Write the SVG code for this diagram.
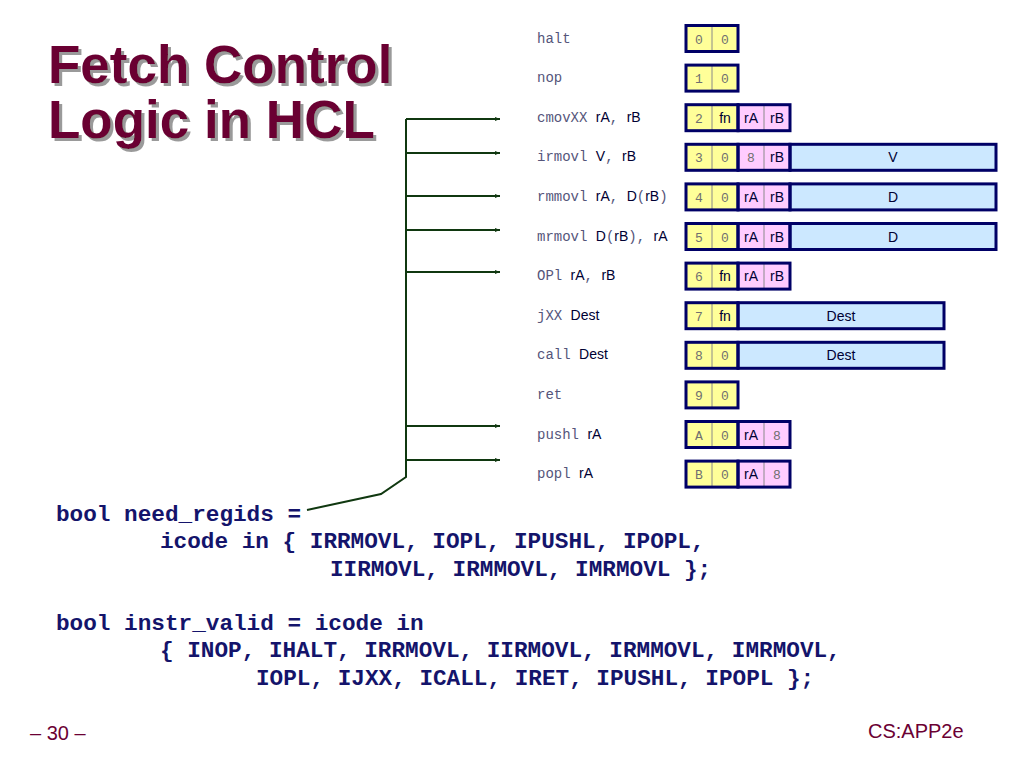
<svg xmlns="http://www.w3.org/2000/svg" width="1024" height="767" viewBox="0 0 1024 767">
<defs>
<style>
.title{font-family:"Liberation Sans",Arial,sans-serif;font-weight:bold;font-size:53px;fill:#6b0033}
.lbl{font-family:"Liberation Sans",Arial,sans-serif;font-size:14px;fill:#000033}
.mono{font-family:"Liberation Mono","Courier New",monospace;font-size:14px;fill:#55557a}
.cm{font-family:"Liberation Mono","Courier New",monospace;font-size:13px;fill:#707070;text-anchor:middle}
.cs{font-family:"Liberation Sans",Arial,sans-serif;font-size:14px;fill:#000033;text-anchor:middle}
.y{fill:#ffff99}
.p{fill:#ffccff}
.b{fill:#cce8ff}
.thin{stroke:#8a8a8a;stroke-width:1}
.bx{fill:none;stroke:#000066;stroke-width:3}
.code{font-family:"Liberation Mono","Courier New",monospace;font-weight:bold;font-size:22.7px;fill:#14146b}
.foot{font-family:"Liberation Sans",Arial,sans-serif;font-size:20px;fill:#6b0033}
.wire{fill:none;stroke:#103810;stroke-width:2}
</style>
<filter id="sh" x="-5%" y="-20%" width="115%" height="150%">
<feOffset in="SourceAlpha" dx="3" dy="3" result="o"/>
<feFlood flood-color="#9a9a9a"/>
<feComposite in2="o" operator="in" result="s"/>
<feMerge><feMergeNode in="s"/><feMergeNode in="SourceGraphic"/></feMerge>
</filter>
<marker id="ah" viewBox="0 0 10 10" refX="10" refY="5" markerWidth="5" markerHeight="5" orient="auto" markerUnits="userSpaceOnUse">
<path d="M0,1 L10,5 L0,9 Z" fill="#103810"/>
</marker>
</defs>
<rect width="1024" height="767" fill="#ffffff"/>

<g id="title" filter="url(#sh)">
<text class="title" x="48" y="83">Fetch Control</text>
<text class="title" x="48" y="138">Logic in HCL</text>
</g>

<g id="connectors">
<path class="wire" d="M307,510 L381,494 L406,477 L406,119"/>
<line class="wire" x1="406" y1="119" x2="500" y2="119" marker-end="url(#ah)"/>
<line class="wire" x1="406" y1="153" x2="500" y2="153" marker-end="url(#ah)"/>
<line class="wire" x1="406" y1="196" x2="500" y2="196" marker-end="url(#ah)"/>
<line class="wire" x1="406" y1="230" x2="500" y2="230" marker-end="url(#ah)"/>
<line class="wire" x1="406" y1="272" x2="500" y2="272" marker-end="url(#ah)"/>
<line class="wire" x1="406" y1="426" x2="500" y2="426" marker-end="url(#ah)"/>
<line class="wire" x1="406" y1="460" x2="500" y2="460" marker-end="url(#ah)"/>
</g>

<g id="row-halt">
<text class="mono" x="537" y="42.5">halt</text>
<rect class="y" x="686" y="25.5" width="52" height="26"/>
<line class="thin" x1="712" y1="25.5" x2="712" y2="51.5"/>
<rect class="bx" x="686" y="25.5" width="52" height="26"/>
<text class="cm" x="699" y="43.5">0</text><text class="cm" x="725" y="43.5">0</text>
</g>

<g id="row-nop">
<text class="mono" x="537" y="82.1">nop</text>
<rect class="y" x="686" y="65.1" width="52" height="26"/>
<line class="thin" x1="712" y1="65.1" x2="712" y2="91.1"/>
<rect class="bx" x="686" y="65.1" width="52" height="26"/>
<text class="cm" x="699" y="83.1">1</text><text class="cm" x="725" y="83.1">0</text>
</g>

<g id="row-cmov">
<text x="537" y="121.7"><tspan class="mono">cmovXX </tspan><tspan class="lbl">rA</tspan><tspan class="mono">, </tspan><tspan class="lbl">rB</tspan></text>
<rect class="y" x="686" y="104.7" width="52" height="26"/>
<rect class="p" x="738" y="104.7" width="52" height="26"/>
<line class="thin" x1="712" y1="104.7" x2="712" y2="130.7"/>
<line class="thin" x1="764" y1="104.7" x2="764" y2="130.7"/>
<rect class="bx" x="686" y="104.7" width="52" height="26"/>
<rect class="bx" x="738" y="104.7" width="52" height="26"/>
<text class="cm" x="699" y="122.7">2</text><text class="cs" x="725" y="122.7">fn</text>
<text class="cs" x="751" y="122.7">rA</text><text class="cs" x="777" y="122.7">rB</text>
</g>

<g id="row-irmovl">
<text x="537" y="161.3"><tspan class="mono">irmovl </tspan><tspan class="lbl">V</tspan><tspan class="mono">, </tspan><tspan class="lbl">rB</tspan></text>
<rect class="y" x="686" y="144.3" width="52" height="26"/>
<rect class="p" x="738" y="144.3" width="52" height="26"/>
<rect class="b" x="790" y="144.3" width="206" height="26"/>
<line class="thin" x1="712" y1="144.3" x2="712" y2="170.3"/>
<line class="thin" x1="764" y1="144.3" x2="764" y2="170.3"/>
<rect class="bx" x="686" y="144.3" width="52" height="26"/>
<rect class="bx" x="738" y="144.3" width="52" height="26"/>
<rect class="bx" x="790" y="144.3" width="206" height="26"/>
<text class="cm" x="699" y="162.3">3</text><text class="cm" x="725" y="162.3">0</text>
<text class="cm" x="751" y="162.3">8</text><text class="cs" x="777" y="162.3">rB</text>
<text class="cs" x="893" y="162.3">V</text>
</g>

<g id="row-rmmovl">
<text x="537" y="200.9"><tspan class="mono">rmmovl </tspan><tspan class="lbl">rA</tspan><tspan class="mono">, </tspan><tspan class="lbl">D</tspan><tspan class="mono">(</tspan><tspan class="lbl">rB</tspan><tspan class="mono">)</tspan></text>
<rect class="y" x="686" y="183.9" width="52" height="26"/>
<rect class="p" x="738" y="183.9" width="52" height="26"/>
<rect class="b" x="790" y="183.9" width="206" height="26"/>
<line class="thin" x1="712" y1="183.9" x2="712" y2="209.9"/>
<line class="thin" x1="764" y1="183.9" x2="764" y2="209.9"/>
<rect class="bx" x="686" y="183.9" width="52" height="26"/>
<rect class="bx" x="738" y="183.9" width="52" height="26"/>
<rect class="bx" x="790" y="183.9" width="206" height="26"/>
<text class="cm" x="699" y="201.9">4</text><text class="cm" x="725" y="201.9">0</text>
<text class="cs" x="751" y="201.9">rA</text><text class="cs" x="777" y="201.9">rB</text>
<text class="cs" x="893" y="201.9">D</text>
</g>

<g id="row-mrmovl">
<text x="537" y="240.5"><tspan class="mono">mrmovl </tspan><tspan class="lbl">D</tspan><tspan class="mono">(</tspan><tspan class="lbl">rB</tspan><tspan class="mono">), </tspan><tspan class="lbl">rA</tspan></text>
<rect class="y" x="686" y="223.5" width="52" height="26"/>
<rect class="p" x="738" y="223.5" width="52" height="26"/>
<rect class="b" x="790" y="223.5" width="206" height="26"/>
<line class="thin" x1="712" y1="223.5" x2="712" y2="249.5"/>
<line class="thin" x1="764" y1="223.5" x2="764" y2="249.5"/>
<rect class="bx" x="686" y="223.5" width="52" height="26"/>
<rect class="bx" x="738" y="223.5" width="52" height="26"/>
<rect class="bx" x="790" y="223.5" width="206" height="26"/>
<text class="cm" x="699" y="241.5">5</text><text class="cm" x="725" y="241.5">0</text>
<text class="cs" x="751" y="241.5">rA</text><text class="cs" x="777" y="241.5">rB</text>
<text class="cs" x="893" y="241.5">D</text>
</g>

<g id="row-op1">
<text x="537" y="280.1"><tspan class="mono">OPl </tspan><tspan class="lbl">rA</tspan><tspan class="mono">, </tspan><tspan class="lbl">rB</tspan></text>
<rect class="y" x="686" y="263.1" width="52" height="26"/>
<rect class="p" x="738" y="263.1" width="52" height="26"/>
<line class="thin" x1="712" y1="263.1" x2="712" y2="289.1"/>
<line class="thin" x1="764" y1="263.1" x2="764" y2="289.1"/>
<rect class="bx" x="686" y="263.1" width="52" height="26"/>
<rect class="bx" x="738" y="263.1" width="52" height="26"/>
<text class="cm" x="699" y="281.1">6</text><text class="cs" x="725" y="281.1">fn</text>
<text class="cs" x="751" y="281.1">rA</text><text class="cs" x="777" y="281.1">rB</text>
</g>

<g id="row-jxx">
<text x="537" y="319.7"><tspan class="mono">jXX </tspan><tspan class="lbl">Dest</tspan></text>
<rect class="y" x="686" y="302.7" width="52" height="26"/>
<rect class="b" x="738" y="302.7" width="206" height="26"/>
<line class="thin" x1="712" y1="302.7" x2="712" y2="328.7"/>
<rect class="bx" x="686" y="302.7" width="52" height="26"/>
<rect class="bx" x="738" y="302.7" width="206" height="26"/>
<text class="cm" x="699" y="320.7">7</text><text class="cs" x="725" y="320.7">fn</text>
<text class="cs" x="841" y="320.7">Dest</text>
</g>

<g id="row-call">
<text x="537" y="359.3"><tspan class="mono">call </tspan><tspan class="lbl">Dest</tspan></text>
<rect class="y" x="686" y="342.3" width="52" height="26"/>
<rect class="b" x="738" y="342.3" width="206" height="26"/>
<line class="thin" x1="712" y1="342.3" x2="712" y2="368.3"/>
<rect class="bx" x="686" y="342.3" width="52" height="26"/>
<rect class="bx" x="738" y="342.3" width="206" height="26"/>
<text class="cm" x="699" y="360.3">8</text><text class="cm" x="725" y="360.3">0</text>
<text class="cs" x="841" y="360.3">Dest</text>
</g>

<g id="row-ret">
<text class="mono" x="537" y="398.9">ret</text>
<rect class="y" x="686" y="381.9" width="52" height="26"/>
<line class="thin" x1="712" y1="381.9" x2="712" y2="407.9"/>
<rect class="bx" x="686" y="381.9" width="52" height="26"/>
<text class="cm" x="699" y="399.9">9</text><text class="cm" x="725" y="399.9">0</text>
</g>

<g id="row-pushl">
<text x="537" y="438.5"><tspan class="mono">pushl </tspan><tspan class="lbl">rA</tspan></text>
<rect class="y" x="686" y="421.5" width="52" height="26"/>
<rect class="p" x="738" y="421.5" width="52" height="26"/>
<line class="thin" x1="712" y1="421.5" x2="712" y2="447.5"/>
<line class="thin" x1="764" y1="421.5" x2="764" y2="447.5"/>
<rect class="bx" x="686" y="421.5" width="52" height="26"/>
<rect class="bx" x="738" y="421.5" width="52" height="26"/>
<text class="cm" x="699" y="439.5">A</text><text class="cm" x="725" y="439.5">0</text>
<text class="cs" x="751" y="439.5">rA</text><text class="cm" x="777" y="439.5">8</text>
</g>

<g id="row-popl">
<text x="537" y="478.1"><tspan class="mono">popl </tspan><tspan class="lbl">rA</tspan></text>
<rect class="y" x="686" y="461.1" width="52" height="26"/>
<rect class="p" x="738" y="461.1" width="52" height="26"/>
<line class="thin" x1="712" y1="461.1" x2="712" y2="487.1"/>
<line class="thin" x1="764" y1="461.1" x2="764" y2="487.1"/>
<rect class="bx" x="686" y="461.1" width="52" height="26"/>
<rect class="bx" x="738" y="461.1" width="52" height="26"/>
<text class="cm" x="699" y="479.1">B</text><text class="cm" x="725" y="479.1">0</text>
<text class="cs" x="751" y="479.1">rA</text><text class="cm" x="777" y="479.1">8</text>
</g>

<g id="code">
<text class="code" x="56" y="521">bool need_regids =</text>
<text class="code" x="160" y="548">icode in { IRRMOVL, IOPL, IPUSHL, IPOPL,</text>
<text class="code" x="330" y="575.5">IIRMOVL, IRMMOVL, IMRMOVL };</text>
<text class="code" x="56" y="629.5">bool instr_valid = icode in</text>
<text class="code" x="160" y="657">{ INOP, IHALT, IRRMOVL, IIRMOVL, IRMMOVL, IMRMOVL,</text>
<text class="code" x="256" y="684.5">IOPL, IJXX, ICALL, IRET, IPUSHL, IPOPL };</text>
</g>

<g id="footer">
<text class="foot" x="30" y="740">– 30 –</text>
<text class="foot" x="868" y="738">CS:APP2e</text>
</g>
</svg>
